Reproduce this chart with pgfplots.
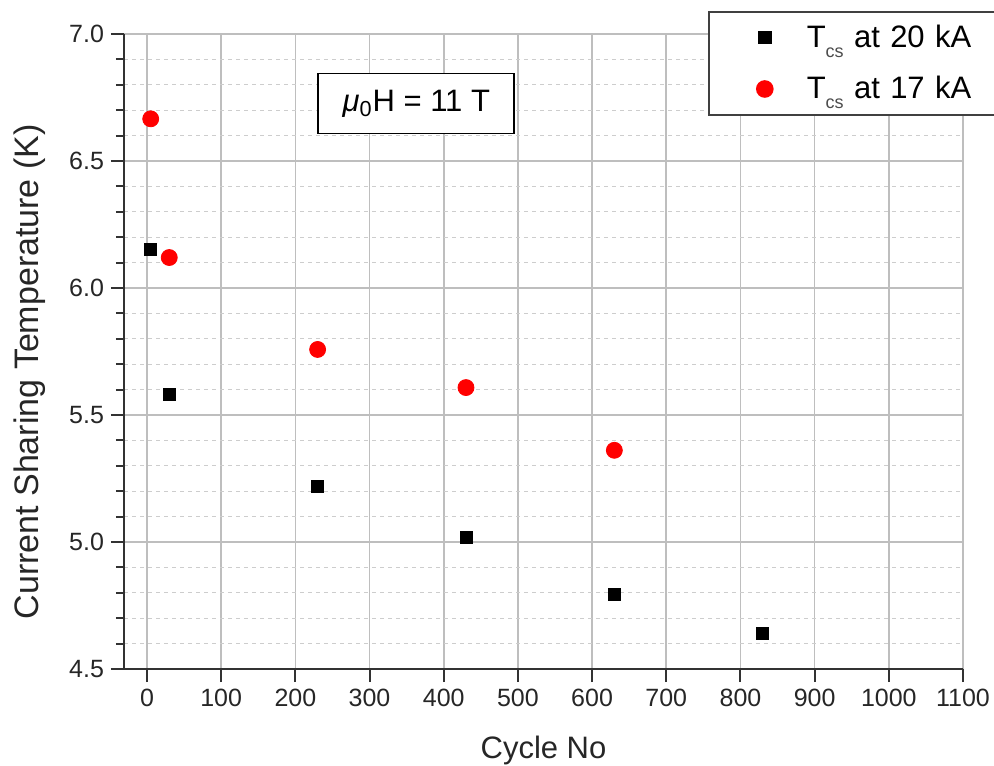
\documentclass[border=0pt]{standalone}
\usepackage{fontspec}
\setmainfont{Liberation Sans}
\usepackage{pgfplots}
\pgfplotsset{compat=1.18}
\definecolor{spine}{RGB}{50,50,50}
\definecolor{gridc}{RGB}{190,190,190}
\definecolor{mgridc}{RGB}{205,205,205}
\begin{document}
\begin{tikzpicture}
\begin{axis}[
  scale only axis,
  width=419.5pt, height=317.5pt,
  xmin=-31, xmax=1100, ymin=4.5, ymax=7.0,
  axis x line*=bottom, axis y line*=left,
  axis line style={-, line width=1.4pt, spine},
  xtick={0,100,...,1100},
  ytick={4.5,5.0,...,7.0},
  minor y tick num=4,
  x tick label style={/pgf/number format/.cd, 1000 sep={}},
  y tick label style={/pgf/number format/.cd, fixed, fixed zerofill, precision=1},
  /pgf/number format/assume math mode=true,
  tick label style={font=\fontsize{12.5}{15}\selectfont, color=black!85},
  tick align=outside,
  major tick length=6.5pt,
  minor tick length=4pt,
  every tick/.style={spine, line width=1pt},
  xmajorgrids, ymajorgrids, yminorgrids,
  major grid style={gridc, line width=0.8pt},
  minor grid style={mgridc, line width=0.5pt, dash pattern=on 2pt off 2pt},
  xlabel={Cycle No},
  ylabel={Current Sharing Temperature (K)},
  every axis x label/.style={at={(axis description cs:0.5,-0.1276)}, anchor=center,
    font=\fontsize{15.5}{18}\selectfont, color=black!85},
  every axis y label/.style={at={(axis description cs:-0.112,0.468)}, rotate=90, anchor=center,
    font=\fontsize{17}{20}\selectfont, color=black!85},
  legend style={at={(292pt,329pt)}, anchor=north west, draw=black!75, line width=0.8pt,
    font=\fontsize{15.5}{18}\selectfont, inner xsep=24pt, inner ysep=4.5pt, row sep=9pt,
    text width=150pt},
  legend cell align=left,
  clip=false,
]
\addplot[only marks, mark=square*, mark size=3pt, black] coordinates {
  (5,6.15) (30,5.58) (230,5.22) (430,5.02) (630,4.795) (830,4.642)
};
\addlegendentry{\hspace{15pt}T\raisebox{-0.6ex}{\fontsize{9}{10}\selectfont\color{black!70} cs} at 20 kA}
\addplot[only marks, mark=*, mark size=4pt, red] coordinates {
  (5,6.666) (30,6.12) (230,5.758) (430,5.608) (630,5.361)
};
\addlegendentry{\hspace{15pt}T\raisebox{-0.6ex}{\fontsize{9}{10}\selectfont\color{black!70} cs} at 17 kA}
\node[draw=black, line width=0.8pt, fill=white, minimum width=98pt, minimum height=30pt,
  font=\fontsize{15.5}{18}\selectfont] at (axis cs:363,6.727)
  {\textit{μ}\textsubscript{0}H = 11 T};
\end{axis}
\pgfresetboundingbox
\useasboundingbox (-62pt,-48pt) rectangle (435pt,334.5pt);
\end{tikzpicture}
\end{document}
